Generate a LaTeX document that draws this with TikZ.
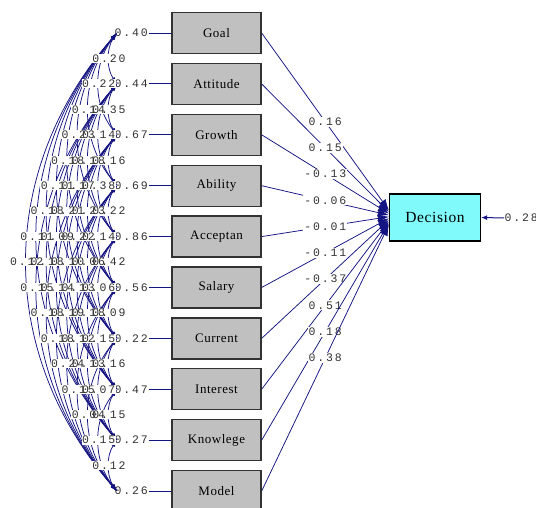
\documentclass[tikz,border=0pt]{standalone}
\usepackage{fontspec}
\setmainfont{Liberation Serif}
\newfontfamily\numfont[LetterSpace=16]{Liberation Mono}
\newfontfamily\boxfont[LetterSpace=4]{Liberation Serif}
\usetikzlibrary{arrows.meta}
\definecolor{navy}{RGB}{20,20,130}
\definecolor{boxgray}{RGB}{192,192,192}
\definecolor{boxedge}{RGB}{50,50,50}
\definecolor{cyanbox}{RGB}{128,250,250}
\definecolor{numcol}{RGB}{50,50,50}
\tikzset{
  var/.style={draw=boxedge, fill=boxgray, line width=1.3pt, minimum width=89pt, minimum height=41pt, inner sep=0pt, font=\boxfont\fontsize{13}{15}\selectfont},
  decbox/.style={draw=black, fill=cyanbox, line width=1.3pt, minimum width=91pt, minimum height=47pt, inner sep=0pt, font=\boxfont\fontsize{15.5}{17}\selectfont},
  numlab/.style={text=numcol, inner sep=0.5pt, font=\numfont\fontsize{11.5}{12}\selectfont},
  covbg/.style={fill=white, text=white, inner sep=0.5pt, font=\numfont\fontsize{11.5}{12}\selectfont},
  coef/.style={fill=white, text=numcol, inner sep=1pt, font=\numfont\fontsize{11.5}{12}\selectfont},
  cov/.style={navy, line width=0.75pt, {Latex[length=7pt,width=4pt]}-{Latex[length=7pt,width=4pt]}},
  pathline/.style={navy, line width=0.75pt, -{Latex[length=11pt,width=8pt]}},
  errline/.style={navy, line width=0.9pt}
}
\begin{document}
\begin{tikzpicture}[x=1pt,y=-1pt]
\useasboundingbox (0,0) rectangle (536,508);
\fill[white] (0,0) rectangle (536,508);

% observed variables
\foreach \t/\ev [count=\i] in {Goal/0.40,Attitude/0.44,Growth/0.67,Ability/0.69,Acceptan/0.86,Salary/0.56,Current/0.22,Interest/0.47,Knowlege/0.27,Model/0.26}{
  \pgfmathsetmacro{\yy}{33+(\i-1)*50.9}
  \node[var] (v\i) at (216.5,\yy) {\t};
  \node[numlab, anchor=west] (e\i) at (114,\yy) {\ev};
  \draw[errline] (e\i.east) -- (v\i.west);
}

% decision
\node[decbox] (dec) at (435,217.5) {Decision};
\node[numlab, anchor=west] (r) at (504,218) {0.28};
\draw[navy, line width=1pt, -{Latex[length=6pt,width=5pt]}] (r.west) -- (dec.east);

% paths to decision
\foreach \c [count=\i] in {0.16,0.15,-0.13,-0.06,-0.01,-0.11,-0.37,0.51,0.18,0.38}{
  \pgfmathsetmacro{\ys}{-(\i-5.5)*1.6}
  \draw[pathline] (v\i.east) -- node[coef] {\c} ([yshift=\ys pt]dec.west);
}

% covariances
\def\covlist{1/2/0.20,1/3/0.22,1/4/0.14,2/3/0.35,1/5/0.23,2/4/0.14,1/6/0.18,2/5/0.18,3/4/0.16,1/7/0.11,2/6/0.17,3/5/0.38,1/8/0.18,2/7/0.21,3/6/0.23,4/5/0.22,1/9/0.11,2/8/0.09,3/7/0.22,4/6/0.14,1/10/0.12,2/9/0.18,3/8/0.10,4/7/0.06,5/6/0.42,2/10/0.15,3/9/0.14,4/8/0.13,5/7/0.06,3/10/0.18,4/9/0.19,5/8/0.18,6/7/0.09,4/10/0.18,5/9/0.12,6/8/0.15,5/10/0.24,6/9/0.13,7/8/0.16,6/10/0.15,7/9/0.07,7/10/0.04,8/9/0.15,8/10/0.15,9/10/0.12}
\foreach \i/\j/\v in \covlist{
  \pgfmathsetmacro{\yi}{33+(\i-1)*50.9}
  \pgfmathsetmacro{\yj}{33+(\j-1)*50.9}
  \pgfmathsetmacro{\ax}{109-(\j-\i-1)*10.3}
  \pgfmathsetmacro{\cx}{117+(\ax-117)/0.75}
  \pgfmathsetmacro{\ya}{\yi+0.3*(\yj-\yi)}
  \pgfmathsetmacro{\yb}{\yj-0.3*(\yj-\yi)}
  \draw[cov] ([xshift=3pt]e\i.west) .. controls (\cx,\ya) and (\cx,\yb) .. ([xshift=3pt]e\j.west);
}
\foreach \i/\j/\v in \covlist{
  \pgfmathsetmacro{\ym}{33+(\i+\j-2)*25.45}
  \pgfmathsetmacro{\ax}{109-(\j-\i-1)*10.3}
  \node[covbg] (bg\i-\j) at (\ax,\ym) {\v};
}
\foreach \i/\j/\v in \covlist{
  \pgfmathsetmacro{\ym}{33+(\i+\j-2)*25.45}
  \pgfmathsetmacro{\ax}{109-(\j-\i-1)*10.3}
  \node[numlab] (c\i-\j) at (\ax,\ym) {\v};
}
\end{tikzpicture}
\end{document}
